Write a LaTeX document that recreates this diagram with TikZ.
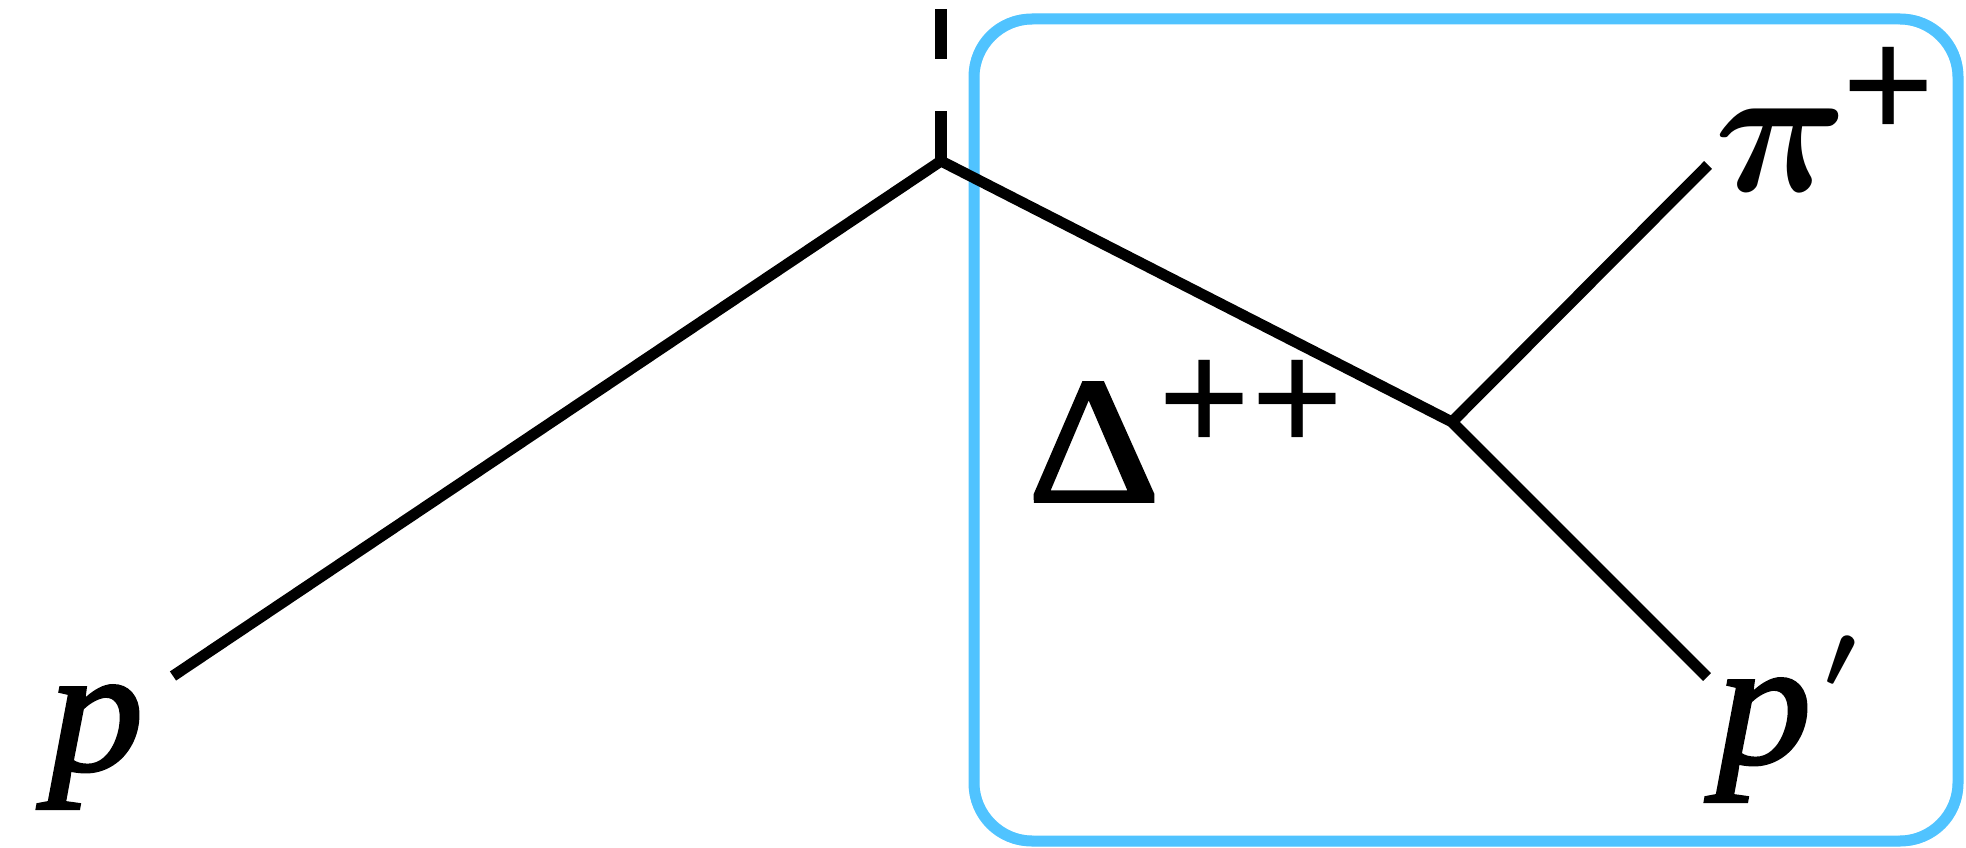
\documentclass[tikz,border=0pt]{standalone}
\usepackage{fix-cm}
\usepackage{fontspec}
\setmainfont{Liberation Serif}[FakeBold=1.6]
\newfontfamily\plusfont{Liberation Sans}
\definecolor{boxblue}{RGB}{80,195,255}
\begin{document}
\begin{tikzpicture}[x=1pt,y=-1pt,
  particle/.style={line width=11pt, line join=miter},
  dashline/.style={line width=12pt, dash pattern=on 50pt off 52pt},
  sketch/.style={draw=boxblue, rounded corners=#1},
  italbl/.style={inner sep=0pt, font=\fontsize{180}{200}\selectfont\itshape},
  uplbl/.style={inner sep=0pt, font=\fontsize{180}{200}\selectfont},
  mathlbl/.style={inner sep=0pt, font=\fontsize{186}{200}\selectfont\boldmath},
  primelbl/.style={inner sep=0pt, font=\fontsize{92}{100}\selectfont\boldmath},
  pluslbl/.style={inner sep=0pt, font=\fontsize{158}{180}\plusfont}]
\useasboundingbox (0,0) rectangle (1966,848);
% sketchy box
\draw[sketch=58pt, line width=11pt] (974,19) rectangle (1958,841);
\draw[sketch=60pt, line width=2pt, opacity=0.8] (970,15) rectangle (1962,845);
\draw[sketch=56pt, line width=2pt, opacity=0.8] (978,23) rectangle (1954,837);
\draw[sketch=59pt, line width=1.5pt, opacity=0.7] (972,21) rectangle (1961,843);
\draw[sketch=57pt, line width=1.5pt, opacity=0.7] (976,17) rectangle (1956,839);
% vertices and ends
\coordinate (V1) at (941,161);
\coordinate (V2) at (1452,422);
\coordinate (pin) at (173,676);
\coordinate (piend) at (1708,165);
\coordinate (ppend) at (1707,677);
\coordinate (top) at (941,8);
\draw[particle] (pin) -- (V1) -- (V2) -- (ppend);
\draw[particle] (V2) -- (piend);
\draw[dashline] (V1) -- (top);
% labels
\node[italbl] (lp) at (96,747) {\scalebox{1.06}[1]{p}};
\node[italbl] (lpp) at (1764,740) {\scalebox{1.06}[1]{p}};
\node[primelbl] (lprime) at (1840,662) {$\prime$};
\node[mathlbl] (lpi) at (1781,150) {$\pi$};
\node[pluslbl] (lpiplus) at (1889,93) {+};
\node[uplbl] (ldelta) at (1094,442) {\scalebox{1.15}[1]{Δ}};
\node[pluslbl] (ldplus) at (1251,406) {++};
\end{tikzpicture}
\end{document}
